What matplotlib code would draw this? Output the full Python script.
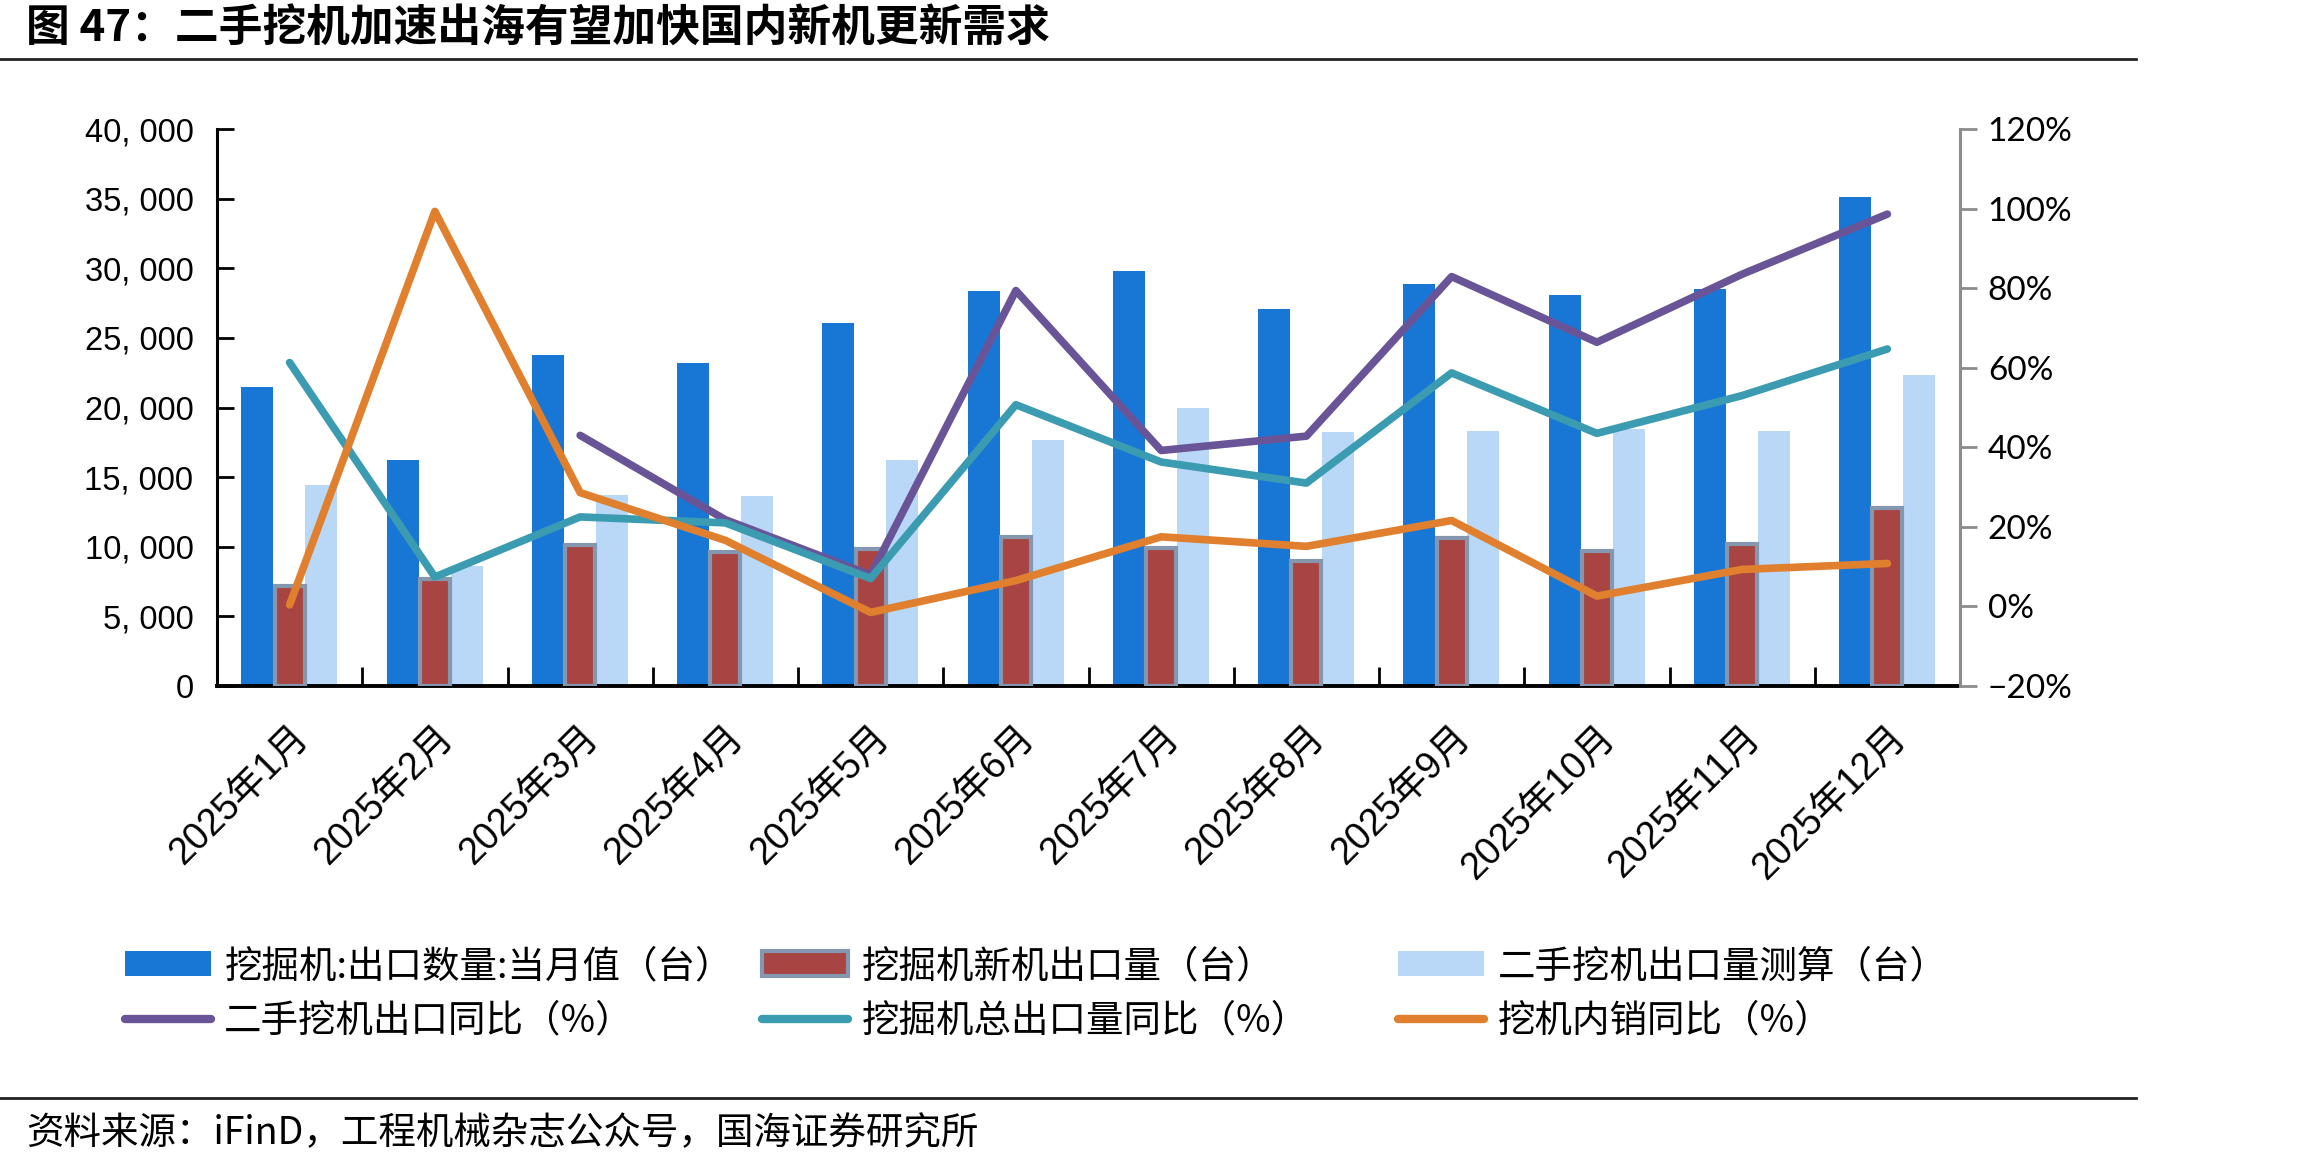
import matplotlib
matplotlib.use("Agg")
import matplotlib.pyplot as plt
import numpy as np
from matplotlib.patches import Patch
from matplotlib.lines import Line2D
from matplotlib.ticker import FuncFormatter, MultipleLocator

plt.rcParams['font.family'] = ['Liberation Sans', 'Noto Sans CJK SC', 'DejaVu Sans']

months = ["2025年1月", "2025年2月", "2025年3月", "2025年4月", "2025年5月", "2025年6月",
          "2025年7月", "2025年8月", "2025年9月", "2025年10月", "2025年11月", "2025年12月"]
total_export = [21500, 16200, 23800, 23200, 26100, 28400, 29800, 27100, 28900, 28100, 28500, 35100]
new_export = [7200, 7700, 10100, 9650, 9850, 10700, 9900, 8950, 10650, 9700, 10200, 12800]
used_export = [14400, 8600, 13700, 13650, 16250, 17700, 20000, 18250, 18300, 18450, 18300, 22300]
used_yoy = [np.nan, np.nan, 43.0, 21.8, 7.9, 79.4, 39.2, 42.8, 82.9, 66.4, 83.5, 98.6]
total_yoy = [61.3, 7.4, 22.5, 21.0, 7.0, 50.7, 36.3, 31.0, 58.7, 43.5, 53.0, 64.7]
domestic_yoy = [0.4, 99.3, 28.6, 16.6, -1.5, 6.5, 17.5, 15.1, 21.6, 2.6, 9.3, 10.8]

labels_bar = ["挖掘机:出口数量:当月值（台）", "挖掘机新机出口量（台）", "二手挖机出口量测算（台）"]
labels_line = ["二手挖机出口同比（%）", "挖掘机总出口量同比（%）", "挖机内销同比（%）"]

c_blue = '#1877D5'
c_red = '#A84543'
c_edge = '#8597AE'
c_light = '#B9D7F6'
c_purple = '#6A5498'
c_teal = '#3B9BB1'
c_orange = '#E0802F'

W, H = 2302, 1169
fig = plt.figure(figsize=(W/100, H/100), dpi=100)
ax = fig.add_axes([217/W, 1-686/H, (1960-217)/W, (686-129)/H])
ax2 = ax.twinx()

x = np.arange(len(months))
bw = 0.22
ax.bar(x - 0.222, total_export, width=bw, color=c_blue, zorder=2)
ax.bar(x, new_export, width=0.205, color=c_red, edgecolor=c_edge, linewidth=3, zorder=3)
ax.bar(x + 0.218, used_export, width=bw, color=c_light, zorder=2)

lw = 5.5
ax2.plot(x, used_yoy, color=c_purple, lw=lw, solid_capstyle='round', zorder=4)
ax2.plot(x, total_yoy, color=c_teal, lw=lw, solid_capstyle='round', zorder=5)
ax2.plot(x, domestic_yoy, color=c_orange, lw=lw, solid_capstyle='round', zorder=6)

ax.set_xlim(-0.5, len(months) - 0.5)
ax.set_ylim(0, 40000)
ax2.set_ylim(-20, 120)
ax.yaxis.set_major_locator(MultipleLocator(5000))
ax2.yaxis.set_major_locator(MultipleLocator(20))
ax.yaxis.set_major_formatter(FuncFormatter(lambda v, p: f"{int(v):,}".replace(",", ", ")))
ax2.yaxis.set_major_formatter(FuncFormatter(lambda v, p: f"{int(v)}%".replace("-", "−")))

ax.set_xticks(np.arange(len(months) + 1) - 0.5, minor=False)
ax.set_xticklabels([])
ax.set_xticks(x, minor=True)
ax.set_xticklabels(months, minor=True, rotation=45, ha='right', va='top',
                   rotation_mode='anchor', fontsize=27,
                   family=['Liberation Sans', 'Noto Sans CJK SC'])
ax.tick_params(axis='x', which='major', direction='in', length=14, width=2, color='black')
ax.tick_params(axis='x', which='minor', length=0, pad=24)
ax.tick_params(axis='y', direction='in', length=12, width=2, labelsize=23.5, pad=17)
ax2.tick_params(axis='y', direction='out', length=12, width=2, color='#8C8C8C',
                labelsize=24, pad=8)
for lab in ax2.get_yticklabels():
    lab.set_family(['Lato', 'DejaVu Sans'])

for s in ['top']:
    ax.spines[s].set_visible(False)
    ax2.spines[s].set_visible(False)
ax.spines['left'].set_linewidth(2.2)
ax.spines['bottom'].set_linewidth(2.8)
ax.spines['right'].set_visible(False)
ax2.spines['left'].set_visible(False)
ax2.spines['bottom'].set_visible(False)
ax2.spines['right'].set_color('#8C8C8C')
ax2.spines['right'].set_linewidth(2.2)
ax2.set_zorder(ax.get_zorder() + 1)
ax2.patch.set_visible(False)

# legends, one per column
leg_font = {'family': ['Noto Sans CJK SC'], 'size': 27}
cols_x = [125/W, 762/W, 1398/W]
bar_handles = [Patch(facecolor=c_blue, edgecolor='none'),
               Patch(facecolor=c_red, edgecolor=c_edge, linewidth=3),
               Patch(facecolor=c_light, edgecolor='none')]
line_handles = [Line2D([], [], color=c_purple, lw=6, solid_capstyle='round'),
                Line2D([], [], color=c_teal, lw=6, solid_capstyle='round'),
                Line2D([], [], color=c_orange, lw=6, solid_capstyle='round')]
for i in range(3):
    lg = fig.legend([bar_handles[i], line_handles[i]], [labels_bar[i], labels_line[i]],
                    loc='upper left', bbox_to_anchor=(cols_x[i], 1-947/H),
                    frameon=False, prop=leg_font, handlelength=2.3, handleheight=0.65,
                    handletextpad=0.35, labelspacing=0.42, borderpad=0, borderaxespad=0)

# title and source
fig.text(26/W, 1-28/H, "图 47：二手挖机加速出海有望加快国内新机更新需求",
         family=['Noto Sans CJK SC'], fontweight='heavy', fontsize=31.5, va='center', ha='left')
fig.add_artist(Line2D([0, 2136/W], [1-59/H, 1-59/H], color='#222222', lw=2))
fig.add_artist(Line2D([0, 2136/W], [1-1098/H, 1-1098/H], color='#222222', lw=2))
fig.text(26/W, 1-1134/H, "资料来源：iFinD，工程机械杂志公众号，国海证券研究所",
         family=['Noto Sans CJK SC'], fontsize=27, va='center', ha='left')

fig.savefig("out.png", dpi=100)
